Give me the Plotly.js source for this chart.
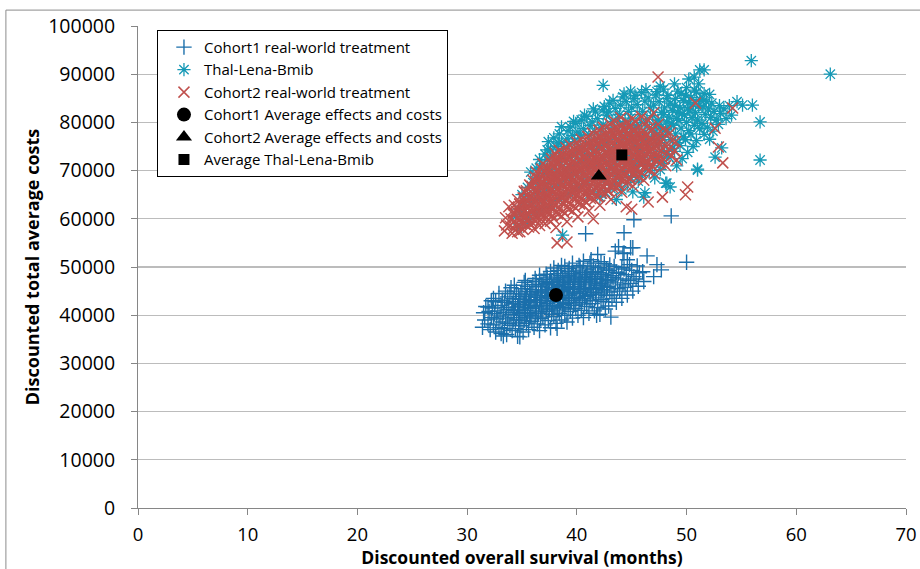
<!DOCTYPE html>
<html>
<head>
<meta charset="utf-8">
<script src="https://cdn.plot.ly/plotly-3.0.1.min.js"></script>
<style>html,body{margin:0;padding:0;background:#fff;}#chart{width:920px;height:569px;}</style>
</head>
<body>
<div id="chart"></div>
<script>
// Legend / series names
const seriesNames = ["Cohort1 real-world treatment","Thal-Lena-Bmib","Cohort2 real-world treatment",
  "Cohort1 Average effects and costs","Cohort2 Average effects and costs","Average Thal-Lena-Bmib"];

// Axis titles
const xTitle = "Discounted overall survival (months)";
const yTitle = "Discounted total average costs";

// Cohort1 real-world treatment: [survival months, cost]
const cohort1Pts = [
[31.4,37500],[31.6,39000],[31.5,40500],[31.7,41800],
[32.1,37000],[31.9,38200],[32.2,39500],[32.0,40800],[31.9,41700],[32.2,43000],
[32.6,36500],[32.4,38000],[32.7,39200],[32.5,40300],[32.3,41500],[32.6,42800],[32.4,43500],
[33.1,36200],[32.9,37400],[33.2,38600],[33.0,39800],[32.8,40900],[33.1,42000],[33.2,43100],[32.9,44500],[33.3,35700],
[33.6,36000],[33.4,37200],[33.7,38300],[33.5,39400],[33.3,40500],[33.6,41600],[33.4,42700],[33.7,43800],[33.5,45000],
[34.1,36800],[33.9,37900],[34.2,39000],[34.0,40100],[33.8,41200],[34.1,42300],[34.2,43400],[33.9,44500],[34.0,45700],
[34.6,35600],[34.4,37200],[34.7,38400],[34.5,39500],[34.3,40600],[34.6,41700],[34.4,42800],[34.7,43900],[34.5,45000],[34.3,46200],[34.8,35500],
[35.1,36500],[34.9,37800],[35.2,38900],[35.0,40000],[34.8,41100],[35.1,42200],[35.2,43300],[34.9,44400],[35.0,45500],[35.2,46800],
[35.6,37000],[35.4,38300],[35.7,39400],[35.5,40500],[35.3,41600],[35.6,42700],[35.4,43800],[35.7,44900],[35.5,46000],[35.3,47200],
[36.1,37500],[35.9,38700],[36.2,39800],[36.0,40900],[35.8,42000],[36.1,43100],[36.2,44200],[35.9,45300],[36.0,46400],[36.2,47600],
[36.6,36800],[36.4,38200],[36.7,39300],[36.5,40400],[36.3,41500],[36.6,42600],[36.4,43700],[36.7,44800],[36.5,45900],[36.3,47000],[36.6,48300],
[37.1,38000],[36.9,39600],[37.2,40800],[37.0,41900],[36.8,43000],[37.1,44100],[37.2,45200],[36.9,46300],[37.0,47400],[37.2,48500],
[37.6,37400],[37.4,38900],[37.7,40200],[37.5,41300],[37.3,42400],[37.6,43500],[37.4,44600],[37.7,45700],[37.5,46800],[37.3,47900],[37.6,49100],
[38.1,38300],[37.9,39700],[38.2,40900],[38.0,42000],[37.8,43100],[38.1,44200],[38.2,45300],[37.9,46400],[38.0,47500],[38.2,48600],[37.9,49800],[38.2,37300],
[38.6,39000],[38.4,40400],[38.7,41600],[38.5,42700],[38.3,43800],[38.6,44900],[38.4,46000],[38.7,47100],[38.5,48200],[38.3,49300],[38.6,50300],
[39.1,38600],[38.9,40000],[39.2,41300],[39.0,42400],[38.8,43500],[39.1,44600],[39.2,45700],[38.9,46800],[39.0,47900],[39.2,49000],[38.9,50100],
[39.6,39400],[39.4,40800],[39.7,42000],[39.5,43100],[39.3,44200],[39.6,45300],[39.4,46400],[39.7,47500],[39.5,48600],[39.3,49700],[39.6,50800],
[40.1,40000],[39.9,41400],[40.2,42600],[40.0,43700],[39.8,44800],[40.1,45900],[40.2,47000],[39.9,48100],[40.0,49200],[40.2,50300],
[40.6,39500],[40.4,41000],[40.7,42300],[40.5,43400],[40.3,44500],[40.6,45600],[40.4,46700],[40.7,47800],[40.5,48900],[40.3,50000],[40.6,51200],
[41.1,40400],[40.9,41800],[41.2,43000],[41.0,44100],[40.8,45200],[41.1,46300],[41.2,47400],[40.9,48500],[41.0,49600],[41.2,50800],[40.8,56900],
[41.6,40900],[41.4,42400],[41.7,43600],[41.5,44700],[41.3,45800],[41.6,46900],[41.4,48000],[41.7,49100],[41.5,50200],[41.3,51500],[41.8,40000],
[42.1,40200],[41.9,41600],[42.2,43200],[42.0,44400],[41.8,45500],[42.1,46600],[42.2,47700],[41.9,48800],[42.0,49900],[42.2,51100],[41.9,52600],
[42.6,41300],[42.4,42800],[42.7,44100],[42.5,45200],[42.3,46300],[42.6,47400],[42.4,48500],[42.7,49600],[42.5,50700],
[43.1,39600],[42.9,41900],[43.2,43500],[43.0,44800],[42.8,46000],[43.1,47100],[43.2,48200],[42.9,49300],[43.0,50400],
[43.6,42700],[43.4,44200],[43.7,45500],[43.5,46700],[43.3,47800],[43.6,48900],[43.4,50100],[43.5,53300],
[44.1,43500],[43.9,45000],[44.2,46300],[44.0,47500],[43.8,48700],[44.1,49900],[44.2,52800],[43.8,54200],[44.3,52900],[44.3,57100],
[44.6,44200],[44.4,45800],[44.7,47200],[44.5,48400],[44.3,49600],[44.6,51500],[44.9,54000],
[45.1,45000],[44.9,46600],[45.2,48000],[45.0,49300],[44.8,50500],[45.1,54000],[45.2,59800],
[45.6,46000],[45.4,47500],[45.7,48800],[45.5,50200],
[46.1,47000],[46.0,49000],[46.4,52300],[47.0,48000],[47.3,50500],[47.7,49400],[50.0,51000],[48.6,60600],
[34.25,39500],[34.3,41000],[34.2,42400],[34.75,39000],[34.8,40400],[34.7,41900],[34.8,43300],
[35.25,39600],[35.3,41000],[35.2,42500],[35.3,43900],[35.75,40000],[35.8,41400],[35.7,42900],[35.8,44300],
[36.25,40300],[36.3,41800],[36.2,43200],[36.3,44600],[36.75,40700],[36.8,42100],[36.7,43600],[36.8,45000],[36.75,46300],
[37.25,41100],[37.3,42500],[37.2,43900],[37.3,45300],[37.2,46600],[37.75,41500],[37.8,42900],[37.7,44300],[37.8,45700],[37.7,47000],
[38.25,41800],[38.3,43300],[38.2,44700],[38.3,46100],[38.2,47400],[38.75,42200],[38.8,43700],[38.7,45100],[38.8,46500],[38.7,47800],
[39.25,42600],[39.3,44100],[39.2,45500],[39.3,46900],[39.2,48200],[39.75,43000],[39.8,44500],[39.7,45900],[39.8,47300],[39.7,48600],
[40.25,43400],[40.3,44900],[40.2,46300],[40.3,47700],[40.75,43900],[40.8,45300],[40.7,46700],[40.8,48100],
[41.25,44300],[41.3,45700],[41.2,47100],[41.3,48500],[41.75,44800],[41.8,46200],[41.7,47600],[42.25,45300],[42.3,46700],[42.2,48100],[42.75,45800],[42.8,47200]
];

// Thal-Lena-Bmib
const thalPts = [
[34.6,58100],[34.4,60500],[34.7,62000],
[35.1,59000],[34.9,61500],[35.2,63500],[35.0,65000],
[35.6,60000],[35.4,62500],[35.7,64500],[35.5,66500],[35.5,59800],
[36.1,61000],[35.9,63300],[36.2,65500],[36.0,67500],[35.8,69700],
[36.6,61800],[36.4,64000],[36.7,66300],[36.5,68500],[36.3,70500],[36.6,72300],
[37.1,62500],[36.9,65000],[37.2,67200],[37.0,69400],[36.8,71400],[37.1,73400],[37.3,74300],
[37.6,63000],[37.4,65800],[37.7,68000],[37.5,70200],[37.3,72200],[37.6,74300],[37.4,76000],
[38.1,64000],[37.9,66500],[38.2,68800],[38.0,71000],[37.8,73000],[38.1,75000],[38.3,75700],[37.9,76800],
[38.6,64500],[38.4,67200],[38.7,69500],[38.5,71800],[38.3,73800],[38.6,75800],[38.4,77600],[38.6,79100],[38.7,56600],
[39.1,65200],[38.9,68000],[39.2,70300],[39.0,72500],[38.8,74600],[39.1,76600],[39.2,78300],
[39.6,66000],[39.4,68700],[39.7,71000],[39.5,73200],[39.3,75300],[39.6,77300],[39.4,79000],[39.7,80200],
[40.1,66500],[39.9,69300],[40.2,71700],[40.0,73900],[39.8,76000],[40.1,78000],[40.3,77400],[39.9,79800],
[40.6,67200],[40.4,70000],[40.7,72400],[40.5,74600],[40.3,76700],[40.6,78700],[40.4,80500],[40.7,81500],
[41.1,65000],[40.9,68000],[41.2,70700],[41.0,73100],[40.8,75300],[41.1,77400],[41.2,79400],[40.9,81200],
[41.6,66000],[41.4,68600],[41.7,71300],[41.5,73700],[41.3,76000],[41.6,78100],[41.4,80100],[41.7,82200],[41.5,82800],
[42.1,64500],[41.9,67000],[42.2,69400],[42.0,72000],[41.8,74400],[42.1,76700],[42.2,78800],[41.9,80800],[42.4,82600],[42.4,87700],
[42.6,65500],[42.4,68000],[42.7,70200],[42.5,72700],[42.3,75100],[42.6,77400],[42.4,79500],[42.7,81500],[42.5,83300],
[43.1,66300],[42.9,68800],[43.2,71000],[43.0,73400],[42.8,75800],[43.1,78100],[43.2,80200],[42.9,82200],[43.0,84000],
[43.6,64000],[43.4,67000],[43.7,69500],[43.5,71800],[43.3,74100],[43.6,76500],[43.4,78800],[43.7,80900],[43.5,82900],[43.3,84600],
[44.1,66000],[43.9,68200],[44.2,70300],[44.0,72600],[43.8,74900],[44.1,77200],[44.2,79500],[43.9,81600],[44.0,83600],[44.2,85300],
[44.6,67500],[44.4,69800],[44.7,71400],[44.5,73400],[44.3,75600],[44.6,77900],[44.4,80200],[44.7,82300],[44.5,84300],[44.3,85900],
[45.1,65600],[44.9,68600],[45.2,70900],[45.0,72500],[44.8,74300],[45.1,76400],[45.2,78600],[44.9,80900],[45.0,83000],[45.2,85000],[44.9,86500],
[45.6,67800],[45.4,69900],[45.7,71800],[45.5,73600],[45.3,75200],[45.6,77200],[45.4,79300],[45.7,81600],[45.5,83700],[45.3,85600],
[46.1,64500],[45.9,69000],[46.2,71000],[46.0,72800],[45.8,74600],[46.1,76200],[46.2,78000],[45.9,80000],[46.0,82300],[46.2,84400],[45.9,86200],[46.2,65400],
[46.6,70000],[46.4,72000],[46.7,73800],[46.5,75500],[46.3,77100],[46.6,78800],[46.4,80700],[46.7,83000],[46.5,85100],[46.3,86800],
[47.1,68500],[46.9,71000],[47.2,73000],[47.0,74800],[46.8,76500],[47.1,78000],[47.2,79600],[46.9,81400],[47.0,83600],[47.2,85700],
[47.6,70200],[47.4,72200],[47.7,74000],[47.5,75800],[47.3,77500],[47.6,79000],[47.4,80500],[47.7,82100],[47.5,84300],[47.3,86400],[47.6,87500],
[48.1,67400],[47.9,71500],[48.2,73400],[48.0,75200],[47.8,77000],[48.1,78600],[48.2,80100],[47.9,81600],[48.0,83000],[48.2,85000],[47.9,86900],
[48.5,66600],[48.4,72800],[48.7,74600],[48.5,76400],[48.3,78200],[48.6,79700],[48.4,81100],[48.7,82500],[48.5,84000],[48.3,85600],
[49.1,71000],[48.9,74000],[49.2,75800],[49.0,77600],[48.8,79400],[49.1,80800],[49.2,82100],[48.9,83500],[49.0,85000],[49.2,86500],[48.9,88000],
[49.6,72500],[49.4,75200],[49.7,77000],[49.5,78800],[49.3,80400],[49.6,81800],[49.4,83100],[49.7,84500],[49.5,86000],
[50.1,73800],[49.9,76400],[50.2,78300],[50.0,80000],[49.8,81500],[50.1,82800],[50.2,84100],[49.9,85600],[50.0,87200],[50.2,89000],
[50.6,75000],[50.4,77600],[50.7,79400],[50.5,81000],[50.3,82400],[50.6,83800],[50.4,85200],[50.7,86700],[50.7,89400],
[51.0,70300],[50.9,76200],[51.2,78700],[51.0,80500],[50.8,82000],[51.1,83400],[51.2,84800],[50.9,86300],[51.1,88000],[51.2,90900],
[51.6,77500],[51.4,79800],[51.7,81600],[51.5,83200],[51.3,84600],[51.6,86000],[51.6,90900],
[52.1,76500],[51.9,79000],[52.2,81000],[52.0,82800],[51.8,84300],[52.1,85800],
[52.6,72800],[52.4,78200],[52.7,80500],[52.5,82300],[52.3,84000],
[53.2,74700],[52.9,79600],[53.1,81800],[53.0,83500],
[53.6,80800],[53.4,82800],[54.1,81500],[53.9,83500],
[63.1,90000],[55.9,92800],[56.7,80100],[56.7,72200],[56.0,83600],[55.1,83600],[54.6,84300],[48.2,67400],[51.0,70100]
];

// Cohort2 real-world treatment
const cohort2Pts = [
[33.4,57500],[33.6,58700],[33.5,60200],
[34.1,57000],[33.9,58500],[34.0,60000],[34.2,61300],[33.8,62500],
[34.6,57300],[34.4,58800],[34.7,60200],[34.5,61500],[34.3,62800],[34.6,64000],[34.8,57300],
[35.1,57800],[34.9,59200],[35.2,60500],[35.0,61800],[34.8,63000],[35.1,64300],[35.2,65700],
[35.6,58300],[35.4,59600],[35.7,60900],[35.5,62100],[35.3,63300],[35.6,64500],[35.4,65800],[35.7,67000],
[36.1,58000],[35.9,59300],[36.2,60600],[36.0,61900],[35.8,63100],[36.1,64300],[36.2,65500],[35.9,66700],[36.0,68000],
[36.6,58600],[36.4,59900],[36.7,61200],[36.5,62400],[36.3,63600],[36.6,64800],[36.4,66000],[36.7,67200],[36.5,68400],[36.3,69700],
[37.1,59000],[36.9,60400],[37.2,61700],[37.0,62900],[36.8,64100],[37.1,65300],[37.2,66500],[36.9,67700],[37.0,68900],[37.2,70100],[36.9,71400],
[37.6,59500],[37.4,60900],[37.7,62200],[37.5,63400],[37.3,64600],[37.6,65800],[37.4,67000],[37.7,68200],[37.5,69400],[37.3,70600],[37.6,71800],
[38.1,58200],[37.9,60000],[38.2,61400],[38.0,62700],[37.8,63900],[38.1,65100],[38.2,66300],[37.9,67500],[38.0,68700],[38.2,69900],[37.9,71100],[38.1,72300],[38.0,73600],[38.2,55000],
[38.6,60600],[38.4,62000],[38.7,63300],[38.5,64500],[38.3,65700],[38.6,66900],[38.4,68100],[38.7,69300],[38.5,70500],[38.3,71700],[38.6,72900],[38.4,74200],
[39.1,59400],[38.9,61100],[39.2,62500],[39.0,63800],[38.8,65000],[39.1,66200],[39.2,67400],[38.9,68600],[39.0,69800],[39.2,71000],[38.9,72200],[39.1,73400],[39.0,74800],[39.1,55200],
[39.6,61600],[39.4,63000],[39.7,64300],[39.5,65500],[39.3,66700],[39.6,67900],[39.4,69100],[39.7,70300],[39.5,71500],[39.3,72700],[39.6,73900],[39.4,75300],
[40.1,60400],[39.9,62200],[40.2,63600],[40.0,64900],[39.8,66100],[40.1,67300],[40.2,68500],[39.9,69700],[40.0,70900],[40.2,72100],[39.9,73300],[40.1,74500],[40.0,75900],
[40.6,62800],[40.4,64200],[40.7,65500],[40.5,66700],[40.3,67900],[40.6,69100],[40.4,70300],[40.7,71500],[40.5,72700],[40.3,73900],[40.6,75100],[40.4,76500],
[41.1,61600],[40.9,63400],[41.2,64800],[41.0,66100],[40.8,67300],[41.1,68500],[41.2,69700],[40.9,70900],[41.0,72100],[41.2,73300],[40.9,74500],[41.1,75700],[41.0,77100],
[41.6,64000],[41.4,65400],[41.7,66700],[41.5,67900],[41.3,69100],[41.6,70300],[41.4,71500],[41.7,72700],[41.5,73900],[41.3,75100],[41.6,76300],[41.4,77800],[41.5,60000],
[42.1,62800],[41.9,64600],[42.2,66000],[42.0,67300],[41.8,68500],[42.1,69700],[42.2,70900],[41.9,72100],[42.0,73300],[42.2,74500],[41.9,75700],[42.1,77000],[42.0,78400],
[42.6,65200],[42.4,66600],[42.7,67900],[42.5,69100],[42.3,70300],[42.6,71500],[42.4,72700],[42.7,73900],[42.5,75100],[42.3,76300],[42.6,77600],[42.4,79000],
[43.1,64000],[42.9,65800],[43.2,67200],[43.0,68500],[42.8,69700],[43.1,70900],[43.2,72100],[42.9,73300],[43.0,74500],[43.2,75700],[42.9,76900],[43.1,78200],[43.0,79700],
[43.6,66400],[43.4,67800],[43.7,69100],[43.5,70300],[43.3,71500],[43.6,72700],[43.4,73900],[43.7,75100],[43.5,76300],[43.3,77500],[43.6,78800],[43.4,80300],
[44.1,65500],[43.9,67000],[44.2,68400],[44.0,69700],[43.8,70900],[44.1,72100],[44.2,73300],[43.9,74500],[44.0,75700],[44.2,76900],[43.9,78100],[44.1,79400],[44.0,81000],
[44.6,67600],[44.4,69000],[44.7,70300],[44.5,71500],[44.3,72700],[44.6,73900],[44.4,75100],[44.7,76300],[44.5,77500],[44.3,78700],[44.6,80100],[44.5,62500],
[45.1,66800],[44.9,68200],[45.2,69600],[45.0,70900],[44.8,72100],[45.1,73300],[45.2,74500],[44.9,75700],[45.0,76900],[45.2,78100],[44.9,79400],[45.1,80800],[45.0,62000],
[45.6,68800],[45.4,70200],[45.7,71500],[45.5,72700],[45.3,73900],[45.6,75100],[45.4,76300],[45.7,77500],[45.5,78800],[45.3,80200],
[46.1,68000],[45.9,69500],[46.2,70800],[46.0,72100],[45.8,73300],[46.1,74500],[46.2,75700],[45.9,76900],[46.0,78200],[46.2,79600],[45.9,81200],
[46.6,70100],[46.4,71400],[46.7,72700],[46.5,73900],[46.3,75100],[46.6,76300],[46.4,77600],[46.7,79000],[46.5,80500],[46.5,63500],
[47.1,69300],[46.9,70800],[47.2,72100],[47.0,73400],[46.8,74600],[47.1,75900],[47.2,77200],[46.9,78600],[47.0,82000],
[47.6,71500],[47.4,72800],[47.7,74100],[47.5,75400],[47.3,76700],[47.6,78100],[47.4,79600],[47.4,89400],[47.8,64500],
[48.1,71000],[47.9,72400],[48.2,73800],[48.0,75200],[47.8,76600],[48.1,78200],
[48.6,73000],[48.4,74600],[48.7,76200],[48.5,77800],
[49.1,72200],[48.9,74200],[49.0,76000],
[53.3,71600],[52.9,74900],[54.2,83000],[50.1,66600],[49.9,65000],[50.8,84000],[52.6,78800],
[34.25,58000],[34.3,59600],[34.2,61000],
[34.75,58400],[34.8,60000],[34.7,61600],[34.8,63100],
[35.25,58900],[35.3,60300],[35.2,61600],[35.3,62900],[35.2,64300],[35.25,65500],
[35.75,59000],[35.8,60400],[35.7,61700],[35.8,63000],[35.7,64300],[35.8,65600],[35.75,66900],
[36.25,59500],[36.3,60900],[36.2,62200],[36.3,63500],[36.2,64800],[36.3,66100],[36.25,67400],[36.2,68700],
[36.75,59800],[36.8,61200],[36.7,62500],[36.8,63800],[36.7,65100],[36.8,66400],[36.75,67700],[36.7,69000],[36.8,70300],
[37.25,60200],[37.3,61600],[37.2,62900],[37.3,64200],[37.2,65500],[37.3,66800],[37.25,68100],[37.2,69400],[37.3,70700],
[37.75,60700],[37.8,62100],[37.7,63400],[37.8,64700],[37.7,66000],[37.8,67300],[37.75,68600],[37.7,69900],[37.8,71200],[37.7,72500],
[38.25,61000],[38.3,62400],[38.2,63700],[38.3,65000],[38.2,66300],[38.3,67600],[38.25,68900],[38.2,70200],[38.3,71500],[38.2,72800],
[38.75,61600],[38.8,63000],[38.7,64300],[38.8,65600],[38.7,66900],[38.8,68200],[38.75,69500],[38.7,70800],[38.8,72100],[38.7,73400],
[39.25,62000],[39.3,63400],[39.2,64700],[39.3,66000],[39.2,67300],[39.3,68600],[39.25,69900],[39.2,71200],[39.3,72500],[39.2,73800],
[39.75,62600],[39.8,64000],[39.7,65300],[39.8,66600],[39.7,67900],[39.8,69200],[39.75,70500],[39.7,71800],[39.8,73100],[39.7,74400],
[40.25,63100],[40.3,64500],[40.2,65800],[40.3,67100],[40.2,68400],[40.3,69700],[40.25,71000],[40.2,72300],[40.3,73600],[40.2,74900],
[40.75,63600],[40.8,65000],[40.7,66300],[40.8,67600],[40.7,68900],[40.8,70200],[40.75,71500],[40.7,72800],[40.8,74100],[40.7,75400],
[41.25,64200],[41.3,65600],[41.2,66900],[41.3,68200],[41.2,69500],[41.3,70800],[41.25,72100],[41.2,73400],[41.3,74700],[41.2,76000],
[41.75,64800],[41.8,66200],[41.7,67500],[41.8,68800],[41.7,70100],[41.8,71400],[41.75,72700],[41.7,74000],[41.8,75300],[41.7,76600],
[42.25,65300],[42.3,66700],[42.2,68000],[42.3,69300],[42.2,70600],[42.3,71900],[42.25,73200],[42.2,74500],[42.3,75800],[42.2,77100],
[42.75,65900],[42.8,67300],[42.7,68600],[42.8,69900],[42.7,71200],[42.8,72500],[42.75,73800],[42.7,75100],[42.8,76400],[42.7,77700],
[43.25,66500],[43.3,67900],[43.2,69200],[43.3,70500],[43.2,71800],[43.3,73100],[43.25,74400],[43.2,75700],[43.3,77000],[43.2,78300],
[43.75,67100],[43.8,68500],[43.7,69800],[43.8,71100],[43.7,72400],[43.8,73700],[43.75,75000],[43.7,76300],[43.8,77600],[43.7,78900],
[44.25,67800],[44.3,69200],[44.2,70500],[44.3,71800],[44.2,73100],[44.3,74400],[44.25,75700],[44.2,77000],[44.3,78300],
[44.75,68400],[44.8,69800],[44.7,71100],[44.8,72400],[44.7,73700],[44.8,75000],[44.75,76300],[44.7,77600],[44.8,78900],
[45.25,69100],[45.3,70500],[45.2,71800],[45.3,73100],[45.2,74400],[45.3,75700],[45.25,77000],[45.2,78300],
[45.75,69800],[45.8,71200],[45.7,72500],[45.8,73800],[45.7,75100],[45.8,76400],[45.75,77700],
[46.25,70500],[46.3,71900],[46.2,73200],[46.3,74500],[46.2,75800],[46.3,77100],
[46.75,71300],[46.8,72700],[46.7,74000],[46.8,75300],[46.7,76600],
[47.25,72000],[47.3,73500],[47.2,74900],[47.3,76300]
];

// Averages
const avgCohort1 = [38.1, 44200];
const avgCohort2 = [42.0, 68900];
const avgThal = [44.1, 73250];

// Axis ticks
const xTicks = [0,10,20,30,40,50,60,70];
const yTicks = [0,10000,20000,30000,40000,50000,60000,70000,80000,90000,100000];

const FONT = "Open Sans, Lato, sans-serif";
const colors = {c1:"#1b6fab", thal:"#1599b6", c2:"#c0504d", avg:"#000000"};

function scat(pts, name, symbol, color, size, lw){
  return {type:"scatter", mode:"markers", name:name,
    x: pts.map(p=>p[0]), y: pts.map(p=>p[1]),
    marker:{symbol:symbol, size:size, color:color, line:{width:lw, color:color}}};
}

const data = [
  scat(cohort1Pts, seriesNames[0], "cross-thin-open", colors.c1, 11, 1.4),
  scat(thalPts, seriesNames[1], "asterisk-open", colors.thal, 11, 1.3),
  scat(cohort2Pts, seriesNames[2], "x-thin-open", colors.c2, 11, 1.5),
  scat([avgCohort1], seriesNames[3], "circle", colors.avg, 14, 0),
  scat([avgCohort2], seriesNames[4], "triangle-up", colors.avg, 14, 0),
  scat([avgThal], seriesNames[5], "square", colors.avg, 11, 0)
];

const layout = {
  width:920, height:569,
  margin:{l:138, r:14, t:26, b:61},
  paper_bgcolor:"#fff", plot_bgcolor:"#fff",
  font:{family:FONT, color:"#000"},
  showlegend:true,
  legend:{x:0.0247, y:0.992, xanchor:"left", yanchor:"top", indentation:6,
    bordercolor:"#000", borderwidth:1, bgcolor:"#fff",
    font:{family:FONT, size:15, color:"#000"}, itemwidth:30, tracegroupgap:0},
  xaxis:{range:[0,70], tickvals:xTicks, showgrid:false, zeroline:false,
    showline:true, linecolor:"#868686", linewidth:1,
    ticks:"outside", ticklen:6, tickcolor:"#868686", ticklabelstandoff:4,
    tickfont:{family:FONT, size:18.5, color:"#000"},
    title:{text:xTitle, standoff:6, font:{family:FONT, size:17.5, weight:"bold", color:"#000"}}},
  yaxis:{range:[0,100000], tickvals:yTicks, tickformat:"d", showgrid:true, gridcolor:"#bcbcbc", gridwidth:1.2,
    zeroline:false, showline:true, linecolor:"#868686", linewidth:1,
    ticks:"outside", ticklen:6, tickcolor:"#868686", ticklabelstandoff:12,
    tickfont:{family:FONT, size:19.5, color:"#000"},
    title:{text:yTitle, standoff:3, font:{family:FONT, size:18, weight:"bold", color:"#000"}}},
  shapes:[{type:"rect", xref:"paper", yref:"paper", x0:-0.172, x1:1.05, y0:-0.2, y1:1.033,
    line:{color:"#8c8c8c", width:1}, fillcolor:"rgba(0,0,0,0)", layer:"below"}]
};

Plotly.newPlot("chart", data, layout, {displayModeBar:false, staticPlot:true});
</script>
</body>
</html>
